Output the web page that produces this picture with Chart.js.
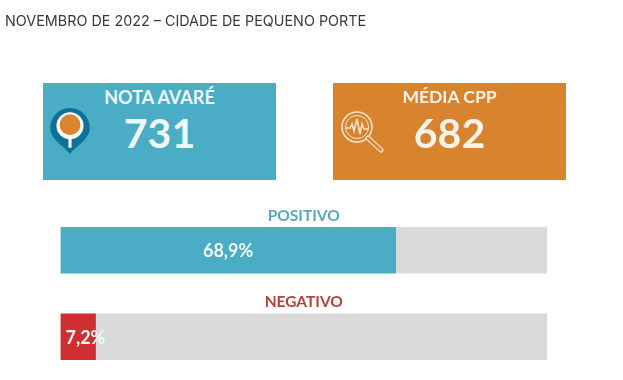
<!DOCTYPE html>
<html lang="pt-BR">
<head>
<meta charset="utf-8">
<title>Nota Avaré</title>
<script src="https://cdn.jsdelivr.net/npm/chart.js@4"></script>
<style>
  body { margin: 0; background: #fff; overflow: hidden; }
  #wrap { position: relative; width: 623px; height: 380px; }
  #myChart { position: absolute; left: 0; top: 0; }
  #titulo { position: absolute; left: 5px; top: 12px; font: 14.35px Inter, sans-serif; color: #3a3a3a; white-space: nowrap; }
  .card { position: absolute; top: 83px; width: 233px; height: 97px; color: #fff; font-family: Lato, sans-serif; font-weight: 700; text-align: center; }
  .card .nome { position: absolute; left: 0; width: 100%; top: 3px; font-size: 18px; line-height: 22px; }
  .card .nota { position: absolute; left: 0; width: 100%; top: 25px; font-size: 41px; line-height: 50px; }
  .card svg { position: absolute; }
  #card1 { left: 43px; background: #4bacc6; color: #eef8fb; }
  #card2 { left: 333px; background: #d8842f; color: #fdf3e8; }
  #card2 .nome { font-size: 17.5px; }
</style>
</head>
<body>
<div id="wrap">
  <canvas id="myChart" width="623" height="380"></canvas>
  <div id="titulo"></div>
  <div class="card" id="card1">
    <div class="nome"></div>
    <div class="nota"></div>
    <svg style="left:5px;top:23px" width="44" height="50" viewBox="0 0 42 48">
      <path d="M21 46 C15 38 2 32 2 21 A19 19 0 0 1 40 21 C40 32 27 38 21 46 Z" fill="#0f7199"/>
      <circle cx="21" cy="19" r="13" fill="#fff"/>
      <circle cx="21" cy="18" r="10" fill="#da8530"/>
      <rect x="19.5" y="31" width="3" height="9" fill="#fff"/>
    </svg>
  </div>
  <div class="card" id="card2">
    <div class="nome"></div>
    <div class="nota"></div>
    <svg style="left:7px;top:27px" width="44" height="44" viewBox="0 0 44 44" fill="none" stroke="#fbe6cf">
      <circle cx="17" cy="17" r="15" stroke-width="1.5"/>
      <circle cx="17" cy="17" r="11.5" stroke-width="1"/>
      <path d="M5 18 H10 L12 14 L14 21 L17 9 L20 24 L22 14 L24 19 H29" stroke-width="1.6"/>
      <path d="M28 28 L41 40" stroke-width="5" stroke-linecap="round"/>
      <path d="M28 28 L41 40" stroke-width="2.4" stroke-linecap="round" stroke="#d8842f"/>
    </svg>
  </div>
</div>
<script>
const titulo = 'NOVEMBRO DE 2022 – CIDADE DE PEQUENO PORTE';
const cardNomes = ['NOTA AVARÉ', 'MÉDIA CPP'];
const cardNotas = [731, 682];
const categorias = ['POSITIVO', 'NEGATIVO'];
const percentuais = [68.9, 7.2];
const resto = [31.1, 92.8];
const corBarras = ['#4bacc6', '#ce3032'];
const corRotulos = ['#5ba6bc', '#b8403f'];

document.getElementById('titulo').textContent = titulo;
document.querySelectorAll('.card').forEach(function (card, i) {
  card.querySelector('.nome').textContent = cardNomes[i];
  card.querySelector('.nota').textContent = cardNotas[i];
});

// nome em cima de cada barra e o percentual dentro dela
const rotulos = {
  id: 'rotulos',
  afterDatasetsDraw(chart) {
    const c = chart.ctx;
    const meta = chart.getDatasetMeta(0);
    const meio = (chart.chartArea.left + chart.chartArea.right) / 2;
    c.save();
    c.textBaseline = 'middle';
    meta.data.forEach(function (bar, i) {
      c.textAlign = 'center';
      c.font = '700 15.5px Lato, sans-serif';
      c.fillStyle = corRotulos[i];
      c.fillText(categorias[i], meio, bar.y - 34.5);

      const txt = percentuais[i].toFixed(1).replace('.', ',') + '%';
      c.font = '700 18px Lato, sans-serif';
      c.fillStyle = '#f2fafc';
      if (c.measureText(txt).width > bar.x - bar.base) {
        c.textAlign = 'left';
        c.fillText(txt, bar.base + 5, bar.y + 1);
      } else {
        c.fillText(txt, (bar.base + bar.x) / 2, bar.y + 1);
      }
    });
    c.restore();
  }
};

new Chart(document.getElementById('myChart'), {
  type: 'bar',
  data: {
    labels: categorias,
    datasets: [
      { label: 'Percentual', data: percentuais, backgroundColor: corBarras, barThickness: 46 },
      { label: 'Resto', data: resto, backgroundColor: '#d9d9d9', barThickness: 46 }
    ]
  },
  options: {
    indexAxis: 'y',
    responsive: false,
    animation: false,
    layout: { padding: { left: 60.5, right: 76, top: 207, bottom: 0 } },
    plugins: { legend: { display: false }, tooltip: { enabled: false }, title: { display: false } },
    scales: {
      x: { stacked: true, min: 0, max: 100, display: false },
      y: { stacked: true, display: false }
    }
  },
  plugins: [rotulos]
});
</script>
</body>
</html>
